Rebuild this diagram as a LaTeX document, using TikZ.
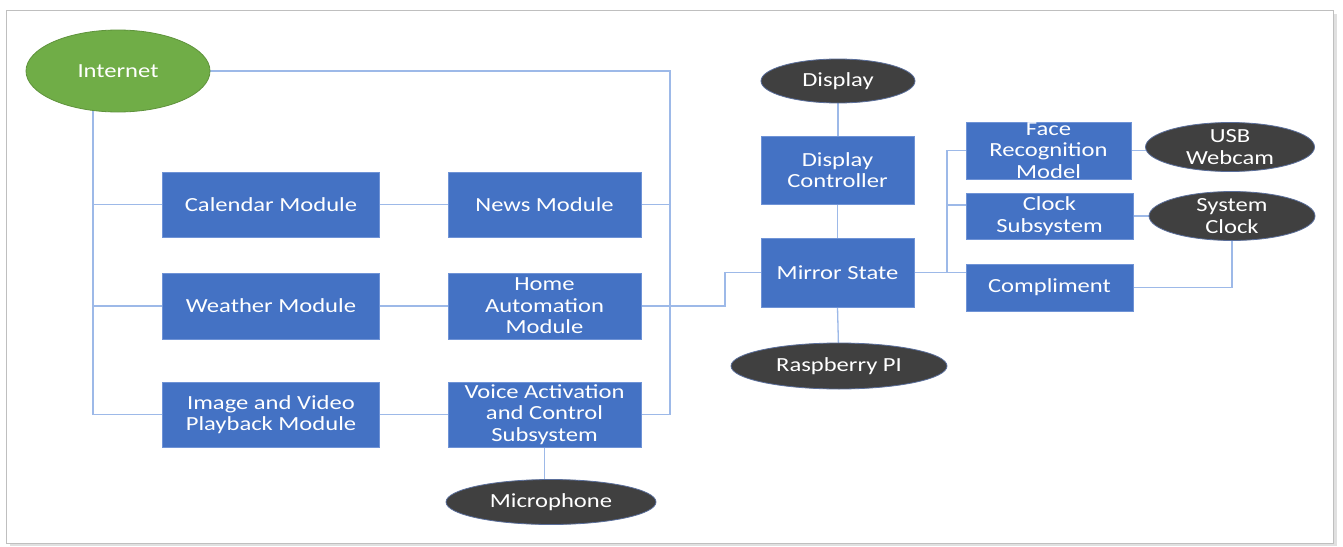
\documentclass[tikz,border=0pt]{standalone}
\usepackage{fontspec}
\setmainfont{Carlito}[FakeStretch=1.23]
\usetikzlibrary{shapes.geometric,backgrounds}
\definecolor{boxblue}{HTML}{4472C4}
\definecolor{boxedge}{HTML}{6F93D6}
\definecolor{ellgrey}{HTML}{404040}
\definecolor{elledge}{HTML}{5A6E9A}
\definecolor{netgreen}{HTML}{70AD47}
\definecolor{linkblue}{HTML}{9DB9E8}
\tikzset{
  blk/.style={rectangle, fill=boxblue, draw=boxedge, line width=0.8pt, text=white, align=center, inner sep=0pt,
    font=\fontsize{20}{21.5}\selectfont},
  ell/.style={ellipse, fill=ellgrey, draw=elledge, line width=0.8pt, text=white, align=center, inner sep=0pt,
    font=\fontsize{20}{21.5}\selectfont},
  conn/.style={draw=linkblue, line width=1.3pt},
}
\begin{document}
\begin{tikzpicture}[x=1pt,y=-1pt]
\useasboundingbox (0,0) rectangle (1343,546);
% nodes
\node[ell, fill=netgreen, draw=netgreen!85!black, minimum width=184pt, minimum height=82pt] (internet) at (118,71) {Internet};
\node[blk, minimum width=217pt, minimum height=65pt] (calendar) at (271,204.5) {Calendar Module};
\node[blk, minimum width=193pt, minimum height=65pt] (news) at (544.5,204.5) {News Module};
\node[blk, minimum width=217pt, minimum height=66pt] (weather) at (271,306) {Weather Module};
\node[blk, minimum width=193pt, minimum height=66pt] (home) at (544.5,306) {Home\\Automation\\Module};
\node[blk, minimum width=217pt, minimum height=65pt] (image) at (271,414.5) {Image and Video\\Playback Module};
\node[blk, minimum width=193pt, minimum height=65pt] (voice) at (544.5,414.5) {Voice Activation\\and Control\\Subsystem};
\node[ell, minimum width=210pt, minimum height=45pt] (microphone) at (551,502) {Microphone};
\node[ell, minimum width=154pt, minimum height=44pt] (display) at (838,81) {Display};
\node[blk, minimum width=153pt, minimum height=68pt] (dispctrl) at (837.5,170) {Display\\Controller};
\node[blk, minimum width=153pt, minimum height=69pt] (mirror) at (837.5,272.5) {Mirror State};
\node[ell, minimum width=216pt, minimum height=46pt] (raspberry) at (839,366) {Raspberry PI};
\node[blk, minimum width=165pt, minimum height=57pt] (face) at (1048.5,150.5) {Face\\Recognition\\Model};
\node[blk, minimum width=167pt, minimum height=46pt] (clock) at (1049.5,216) {Clock\\Subsystem};
\node[blk, minimum width=167pt, minimum height=47pt] (compliment) at (1049.5,287.5) {Compliment};
\node[ell, minimum width=169pt, minimum height=49pt] (usb) at (1230,147) {USB\\Webcam};
\node[ell, minimum width=166pt, minimum height=46pt] (sysclock) at (1232,216) {System\\Clock};
% junction coordinates
\coordinate (lbus) at (93,414.5);
\coordinate (rbus) at (670,414.5);
\coordinate (jog) at (725,306);
\coordinate (mbus) at (947,272.5);
\coordinate (clkbr) at (947,205);
\begin{scope}[on background layer]
  % frame with shadow
  \fill[black!12] (10,14) rectangle (1337,546);
  \filldraw[fill=white, draw=black!25, line width=0.8pt] (6.5,10.5) rectangle (1333,543);
  % left side
  \draw[conn] (internet.center -| lbus) -- (lbus) -- (image.west);
  \draw[conn] (calendar.west -| lbus) -- (calendar.west);
  \draw[conn] (weather.west -| lbus) -- (weather.west);
  \draw[conn] (calendar) -- (news);
  \draw[conn] (weather) -- (home);
  \draw[conn] (image) -- (voice);
  \draw[conn] (internet.center) -| (rbus) -- (voice.east);
  \draw[conn] (news.east) -- (news.east -| rbus);
  \draw[conn] (voice.south) -- (voice.south |- microphone.center);
  \draw[conn] (home.east) -- (jog) |- (mirror.west);
  % middle column
  \draw[conn] (display.center) -- (display.center |- dispctrl.north);
  \draw[conn] (dispctrl) -- (mirror);
  \draw[conn] (mirror.south) -- (raspberry.center);
  % right side
  \draw[conn] (mirror.east) -- (mirror.east -| compliment.west);
  \draw[conn] (face.west) -- (face.west -| mbus) -- (mbus);
  \draw[conn] (clkbr) -- (clkbr -| clock.west);
  \draw[conn] (face.east) -- (face.east -| usb.center);
  \draw[conn] (clock.east) -- (clock.east -| sysclock.center);
  \draw[conn] (compliment.east) -| (sysclock.center);
\end{scope}
\end{tikzpicture}
\end{document}
